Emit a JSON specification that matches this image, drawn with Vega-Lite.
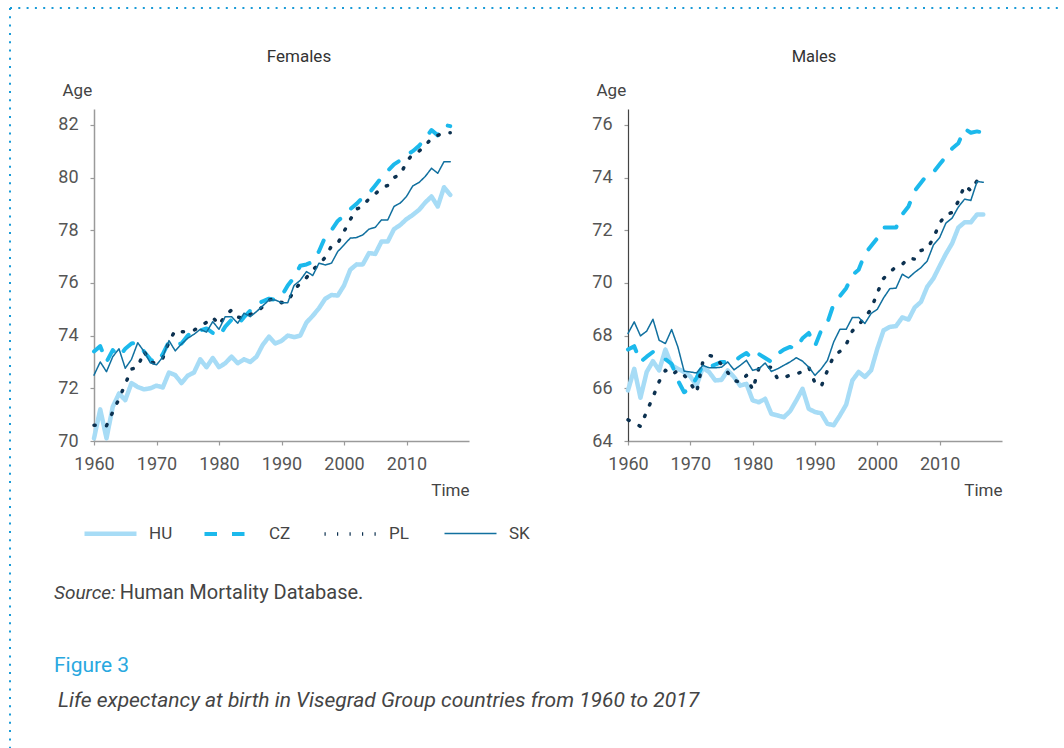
{
"$schema": "https://vega.github.io/schema/vega-lite/v6.json",
"padding": {"left": 8, "top": 7, "right": 0, "bottom": 0},
"background": "white",
"config": {
 "font": "Roboto",
 "view": {"stroke": null},
 "axis": {"grid": false, "domainColor": "#9a9a9a", "domainWidth": 1.5, "tickColor": "#9a9a9a", "tickSize": 4, "tickWidth": 1.2, "labelFont": "Roboto", "labelFontSize": 18, "labelColor": "#555", "titleFont": "Roboto", "titleFontSize": 17, "titleFontWeight": "normal", "titleColor": "#444"}
},
"data": {"values": [
{"sex":"Females","country":"HU","year":1960,"age":70.1},{"sex":"Females","country":"HU","year":1961,"age":71.2},{"sex":"Females","country":"HU","year":1962,"age":70.1},{"sex":"Females","country":"HU","year":1963,"age":71.3},{"sex":"Females","country":"HU","year":1964,"age":71.8},{"sex":"Females","country":"HU","year":1965,"age":71.55},{"sex":"Females","country":"HU","year":1966,"age":72.2},{"sex":"Females","country":"HU","year":1967,"age":72.05},{"sex":"Females","country":"HU","year":1968,"age":71.96},{"sex":"Females","country":"HU","year":1969,"age":72.0},
{"sex":"Females","country":"HU","year":1970,"age":72.1},{"sex":"Females","country":"HU","year":1971,"age":72.03},{"sex":"Females","country":"HU","year":1972,"age":72.6},{"sex":"Females","country":"HU","year":1973,"age":72.5},{"sex":"Females","country":"HU","year":1974,"age":72.2},{"sex":"Females","country":"HU","year":1975,"age":72.48},{"sex":"Females","country":"HU","year":1976,"age":72.6},{"sex":"Females","country":"HU","year":1977,"age":73.1},{"sex":"Females","country":"HU","year":1978,"age":72.8},{"sex":"Females","country":"HU","year":1979,"age":73.15},
{"sex":"Females","country":"HU","year":1980,"age":72.8},{"sex":"Females","country":"HU","year":1981,"age":72.95},{"sex":"Females","country":"HU","year":1982,"age":73.2},{"sex":"Females","country":"HU","year":1983,"age":72.95},{"sex":"Females","country":"HU","year":1984,"age":73.1},{"sex":"Females","country":"HU","year":1985,"age":73.0},{"sex":"Females","country":"HU","year":1986,"age":73.2},{"sex":"Females","country":"HU","year":1987,"age":73.65},{"sex":"Females","country":"HU","year":1988,"age":73.96},{"sex":"Females","country":"HU","year":1989,"age":73.7},
{"sex":"Females","country":"HU","year":1990,"age":73.8},{"sex":"Females","country":"HU","year":1991,"age":74.0},{"sex":"Females","country":"HU","year":1992,"age":73.94},{"sex":"Females","country":"HU","year":1993,"age":74.0},{"sex":"Females","country":"HU","year":1994,"age":74.5},{"sex":"Females","country":"HU","year":1995,"age":74.75},{"sex":"Females","country":"HU","year":1996,"age":75.04},{"sex":"Females","country":"HU","year":1997,"age":75.4},{"sex":"Females","country":"HU","year":1998,"age":75.54},{"sex":"Females","country":"HU","year":1999,"age":75.52},
{"sex":"Females","country":"HU","year":2000,"age":75.9},{"sex":"Females","country":"HU","year":2001,"age":76.5},{"sex":"Females","country":"HU","year":2002,"age":76.7},{"sex":"Females","country":"HU","year":2003,"age":76.7},{"sex":"Females","country":"HU","year":2004,"age":77.13},{"sex":"Females","country":"HU","year":2005,"age":77.1},{"sex":"Females","country":"HU","year":2006,"age":77.57},{"sex":"Females","country":"HU","year":2007,"age":77.57},{"sex":"Females","country":"HU","year":2008,"age":78.04},{"sex":"Females","country":"HU","year":2009,"age":78.2},
{"sex":"Females","country":"HU","year":2010,"age":78.42},{"sex":"Females","country":"HU","year":2011,"age":78.58},{"sex":"Females","country":"HU","year":2012,"age":78.77},{"sex":"Females","country":"HU","year":2013,"age":79.05},{"sex":"Females","country":"HU","year":2014,"age":79.28},{"sex":"Females","country":"HU","year":2015,"age":78.9},{"sex":"Females","country":"HU","year":2016,"age":79.63},{"sex":"Females","country":"HU","year":2017,"age":79.34},
{"sex":"Females","country":"CZ","year":1960,"age":73.4},{"sex":"Females","country":"CZ","year":1961,"age":73.6},{"sex":"Females","country":"CZ","year":1962,"age":73.0},{"sex":"Females","country":"CZ","year":1963,"age":73.45},{"sex":"Females","country":"CZ","year":1964,"age":73.2},{"sex":"Females","country":"CZ","year":1965,"age":73.5},{"sex":"Females","country":"CZ","year":1966,"age":73.7},{"sex":"Females","country":"CZ","year":1967,"age":73.73},{"sex":"Females","country":"CZ","year":1968,"age":73.4},{"sex":"Females","country":"CZ","year":1969,"age":73.1},
{"sex":"Females","country":"CZ","year":1970,"age":72.95},{"sex":"Females","country":"CZ","year":1971,"age":73.3},{"sex":"Females","country":"CZ","year":1972,"age":73.77},{"sex":"Females","country":"CZ","year":1973,"age":73.65},{"sex":"Females","country":"CZ","year":1974,"age":73.7},{"sex":"Females","country":"CZ","year":1975,"age":74.0},{"sex":"Females","country":"CZ","year":1976,"age":74.2},{"sex":"Females","country":"CZ","year":1977,"age":74.2},{"sex":"Females","country":"CZ","year":1978,"age":74.27},{"sex":"Females","country":"CZ","year":1979,"age":74.1},
{"sex":"Females","country":"CZ","year":1980,"age":73.96},{"sex":"Females","country":"CZ","year":1981,"age":74.34},{"sex":"Females","country":"CZ","year":1982,"age":74.6},{"sex":"Females","country":"CZ","year":1983,"age":74.4},{"sex":"Females","country":"CZ","year":1984,"age":74.7},{"sex":"Females","country":"CZ","year":1985,"age":74.95},{"sex":"Females","country":"CZ","year":1986,"age":75.2},{"sex":"Females","country":"CZ","year":1987,"age":75.3},{"sex":"Females","country":"CZ","year":1988,"age":75.4},{"sex":"Females","country":"CZ","year":1989,"age":75.35},
{"sex":"Females","country":"CZ","year":1990,"age":75.5},{"sex":"Females","country":"CZ","year":1991,"age":75.9},{"sex":"Females","country":"CZ","year":1992,"age":76.2},{"sex":"Females","country":"CZ","year":1993,"age":76.65},{"sex":"Females","country":"CZ","year":1994,"age":76.7},{"sex":"Females","country":"CZ","year":1995,"age":76.8},{"sex":"Females","country":"CZ","year":1996,"age":77.2},{"sex":"Females","country":"CZ","year":1997,"age":77.75},{"sex":"Females","country":"CZ","year":1998,"age":78.0},{"sex":"Females","country":"CZ","year":1999,"age":78.35},
{"sex":"Females","country":"CZ","year":2000,"age":78.55},{"sex":"Females","country":"CZ","year":2001,"age":78.8},{"sex":"Females","country":"CZ","year":2002,"age":79.0},{"sex":"Females","country":"CZ","year":2003,"age":79.25},{"sex":"Females","country":"CZ","year":2004,"age":79.4},{"sex":"Females","country":"CZ","year":2005,"age":79.7},{"sex":"Females","country":"CZ","year":2006,"age":80.0},{"sex":"Females","country":"CZ","year":2007,"age":80.25},{"sex":"Females","country":"CZ","year":2008,"age":80.5},{"sex":"Females","country":"CZ","year":2009,"age":80.65},
{"sex":"Females","country":"CZ","year":2010,"age":80.85},{"sex":"Females","country":"CZ","year":2011,"age":81.0},{"sex":"Females","country":"CZ","year":2012,"age":81.2},{"sex":"Females","country":"CZ","year":2013,"age":81.5},{"sex":"Females","country":"CZ","year":2014,"age":81.8},{"sex":"Females","country":"CZ","year":2015,"age":81.6},{"sex":"Females","country":"CZ","year":2016,"age":82.0},{"sex":"Females","country":"CZ","year":2017,"age":81.95},
{"sex":"Females","country":"PL","year":1960,"age":70.6},{"sex":"Females","country":"PL","year":1961,"age":70.6},{"sex":"Females","country":"PL","year":1962,"age":70.58},{"sex":"Females","country":"PL","year":1963,"age":71.1},{"sex":"Females","country":"PL","year":1964,"age":71.6},{"sex":"Females","country":"PL","year":1965,"age":72.16},{"sex":"Females","country":"PL","year":1966,"age":72.73},{"sex":"Females","country":"PL","year":1967,"age":72.8},{"sex":"Females","country":"PL","year":1968,"age":73.4},{"sex":"Females","country":"PL","year":1969,"age":73.0},
{"sex":"Females","country":"PL","year":1970,"age":72.95},{"sex":"Females","country":"PL","year":1971,"age":73.14},{"sex":"Females","country":"PL","year":1972,"age":73.77},{"sex":"Females","country":"PL","year":1973,"age":74.2},{"sex":"Females","country":"PL","year":1974,"age":74.15},{"sex":"Females","country":"PL","year":1975,"age":74.15},{"sex":"Females","country":"PL","year":1976,"age":74.2},{"sex":"Females","country":"PL","year":1977,"age":74.37},{"sex":"Females","country":"PL","year":1978,"age":74.5},{"sex":"Females","country":"PL","year":1979,"age":74.7},
{"sex":"Females","country":"PL","year":1980,"age":74.4},{"sex":"Females","country":"PL","year":1981,"age":74.76},{"sex":"Females","country":"PL","year":1982,"age":74.97},{"sex":"Females","country":"PL","year":1983,"age":74.7},{"sex":"Females","country":"PL","year":1984,"age":74.66},{"sex":"Females","country":"PL","year":1985,"age":74.8},{"sex":"Females","country":"PL","year":1986,"age":74.89},{"sex":"Females","country":"PL","year":1987,"age":75.1},{"sex":"Females","country":"PL","year":1988,"age":75.35},{"sex":"Females","country":"PL","year":1989,"age":75.4},
{"sex":"Females","country":"PL","year":1990,"age":75.25},{"sex":"Females","country":"PL","year":1991,"age":75.3},{"sex":"Females","country":"PL","year":1992,"age":75.7},{"sex":"Females","country":"PL","year":1993,"age":76.0},{"sex":"Females","country":"PL","year":1994,"age":76.2},{"sex":"Females","country":"PL","year":1995,"age":76.5},{"sex":"Females","country":"PL","year":1996,"age":76.7},{"sex":"Females","country":"PL","year":1997,"age":76.97},{"sex":"Females","country":"PL","year":1998,"age":77.4},{"sex":"Females","country":"PL","year":1999,"age":77.5},
{"sex":"Females","country":"PL","year":2000,"age":77.95},{"sex":"Females","country":"PL","year":2001,"age":78.4},{"sex":"Females","country":"PL","year":2002,"age":78.8},{"sex":"Females","country":"PL","year":2003,"age":78.9},{"sex":"Females","country":"PL","year":2004,"age":79.2},{"sex":"Females","country":"PL","year":2005,"age":79.38},{"sex":"Females","country":"PL","year":2006,"age":79.6},{"sex":"Females","country":"PL","year":2007,"age":79.7},{"sex":"Females","country":"PL","year":2008,"age":80.0},{"sex":"Females","country":"PL","year":2009,"age":80.1},
{"sex":"Females","country":"PL","year":2010,"age":80.58},{"sex":"Females","country":"PL","year":2011,"age":80.9},{"sex":"Females","country":"PL","year":2012,"age":81.0},{"sex":"Females","country":"PL","year":2013,"age":81.2},{"sex":"Females","country":"PL","year":2014,"age":81.5},{"sex":"Females","country":"PL","year":2015,"age":81.6},{"sex":"Females","country":"PL","year":2016,"age":81.7},{"sex":"Females","country":"PL","year":2017,"age":81.7},
{"sex":"Females","country":"SK","year":1960,"age":72.5},{"sex":"Females","country":"SK","year":1961,"age":73.0},{"sex":"Females","country":"SK","year":1962,"age":72.63},{"sex":"Females","country":"SK","year":1963,"age":73.2},{"sex":"Females","country":"SK","year":1964,"age":73.5},{"sex":"Females","country":"SK","year":1965,"age":72.76},{"sex":"Females","country":"SK","year":1966,"age":73.1},{"sex":"Females","country":"SK","year":1967,"age":73.73},{"sex":"Females","country":"SK","year":1968,"age":73.4},{"sex":"Females","country":"SK","year":1969,"age":72.97},
{"sex":"Females","country":"SK","year":1970,"age":72.89},{"sex":"Females","country":"SK","year":1971,"age":73.18},{"sex":"Females","country":"SK","year":1972,"age":73.81},{"sex":"Females","country":"SK","year":1973,"age":73.42},{"sex":"Females","country":"SK","year":1974,"age":73.68},{"sex":"Females","country":"SK","year":1975,"age":73.9},{"sex":"Females","country":"SK","year":1976,"age":74.05},{"sex":"Females","country":"SK","year":1977,"age":74.24},{"sex":"Females","country":"SK","year":1978,"age":74.13},{"sex":"Females","country":"SK","year":1979,"age":74.53},
{"sex":"Females","country":"SK","year":1980,"age":74.24},{"sex":"Females","country":"SK","year":1981,"age":74.72},{"sex":"Females","country":"SK","year":1982,"age":74.72},{"sex":"Females","country":"SK","year":1983,"age":74.47},{"sex":"Females","country":"SK","year":1984,"age":74.85},{"sex":"Females","country":"SK","year":1985,"age":74.72},{"sex":"Females","country":"SK","year":1986,"age":74.91},{"sex":"Females","country":"SK","year":1987,"age":75.13},{"sex":"Females","country":"SK","year":1988,"age":75.35},{"sex":"Females","country":"SK","year":1989,"age":75.35},
{"sex":"Females","country":"SK","year":1990,"age":75.25},{"sex":"Females","country":"SK","year":1991,"age":75.25},{"sex":"Females","country":"SK","year":1992,"age":75.9},{"sex":"Females","country":"SK","year":1993,"age":76.1},{"sex":"Females","country":"SK","year":1994,"age":76.43},{"sex":"Females","country":"SK","year":1995,"age":76.28},{"sex":"Females","country":"SK","year":1996,"age":76.75},{"sex":"Females","country":"SK","year":1997,"age":76.68},{"sex":"Females","country":"SK","year":1998,"age":76.75},{"sex":"Females","country":"SK","year":1999,"age":77.19},
{"sex":"Females","country":"SK","year":2000,"age":77.44},{"sex":"Females","country":"SK","year":2001,"age":77.7},{"sex":"Females","country":"SK","year":2002,"age":77.72},{"sex":"Females","country":"SK","year":2003,"age":77.82},{"sex":"Females","country":"SK","year":2004,"age":78.04},{"sex":"Females","country":"SK","year":2005,"age":78.11},{"sex":"Females","country":"SK","year":2006,"age":78.39},{"sex":"Females","country":"SK","year":2007,"age":78.39},{"sex":"Females","country":"SK","year":2008,"age":78.9},{"sex":"Females","country":"SK","year":2009,"age":79.03},
{"sex":"Females","country":"SK","year":2010,"age":79.28},{"sex":"Females","country":"SK","year":2011,"age":79.68},{"sex":"Females","country":"SK","year":2012,"age":79.81},{"sex":"Females","country":"SK","year":2013,"age":80.04},{"sex":"Females","country":"SK","year":2014,"age":80.35},{"sex":"Females","country":"SK","year":2015,"age":80.16},{"sex":"Females","country":"SK","year":2016,"age":80.6},{"sex":"Females","country":"SK","year":2017,"age":80.6},
{"sex":"Males","country":"HU","year":1960,"age":65.92},{"sex":"Males","country":"HU","year":1961,"age":66.74},{"sex":"Males","country":"HU","year":1962,"age":65.64},{"sex":"Males","country":"HU","year":1963,"age":66.62},{"sex":"Males","country":"HU","year":1964,"age":67.03},{"sex":"Males","country":"HU","year":1965,"age":66.68},{"sex":"Males","country":"HU","year":1966,"age":67.47},{"sex":"Males","country":"HU","year":1967,"age":66.87},{"sex":"Males","country":"HU","year":1968,"age":66.74},{"sex":"Males","country":"HU","year":1969,"age":66.62},
{"sex":"Males","country":"HU","year":1970,"age":66.45},{"sex":"Males","country":"HU","year":1971,"age":66.1},{"sex":"Males","country":"HU","year":1972,"age":66.78},{"sex":"Males","country":"HU","year":1973,"age":66.62},{"sex":"Males","country":"HU","year":1974,"age":66.3},{"sex":"Males","country":"HU","year":1975,"age":66.32},{"sex":"Males","country":"HU","year":1976,"age":66.68},{"sex":"Males","country":"HU","year":1977,"age":66.43},{"sex":"Males","country":"HU","year":1978,"age":66.1},{"sex":"Males","country":"HU","year":1979,"age":66.17},
{"sex":"Males","country":"HU","year":1980,"age":65.54},{"sex":"Males","country":"HU","year":1981,"age":65.47},{"sex":"Males","country":"HU","year":1982,"age":65.6},{"sex":"Males","country":"HU","year":1983,"age":65.03},{"sex":"Males","country":"HU","year":1984,"age":64.97},{"sex":"Males","country":"HU","year":1985,"age":64.9},{"sex":"Males","country":"HU","year":1986,"age":65.13},{"sex":"Males","country":"HU","year":1987,"age":65.54},{"sex":"Males","country":"HU","year":1988,"age":65.98},{"sex":"Males","country":"HU","year":1989,"age":65.22},
{"sex":"Males","country":"HU","year":1990,"age":65.1},{"sex":"Males","country":"HU","year":1991,"age":65.05},{"sex":"Males","country":"HU","year":1992,"age":64.65},{"sex":"Males","country":"HU","year":1993,"age":64.6},{"sex":"Males","country":"HU","year":1994,"age":64.97},{"sex":"Males","country":"HU","year":1995,"age":65.38},{"sex":"Males","country":"HU","year":1996,"age":66.3},{"sex":"Males","country":"HU","year":1997,"age":66.62},{"sex":"Males","country":"HU","year":1998,"age":66.43},{"sex":"Males","country":"HU","year":1999,"age":66.68},
{"sex":"Males","country":"HU","year":2000,"age":67.5},{"sex":"Males","country":"HU","year":2001,"age":68.2},{"sex":"Males","country":"HU","year":2002,"age":68.33},{"sex":"Males","country":"HU","year":2003,"age":68.36},{"sex":"Males","country":"HU","year":2004,"age":68.69},{"sex":"Males","country":"HU","year":2005,"age":68.61},{"sex":"Males","country":"HU","year":2006,"age":69.07},{"sex":"Males","country":"HU","year":2007,"age":69.28},{"sex":"Males","country":"HU","year":2008,"age":69.85},{"sex":"Males","country":"HU","year":2009,"age":70.17},
{"sex":"Males","country":"HU","year":2010,"age":70.64},{"sex":"Males","country":"HU","year":2011,"age":71.1},{"sex":"Males","country":"HU","year":2012,"age":71.5},{"sex":"Males","country":"HU","year":2013,"age":72.1},{"sex":"Males","country":"HU","year":2014,"age":72.3},{"sex":"Males","country":"HU","year":2015,"age":72.3},{"sex":"Males","country":"HU","year":2016,"age":72.6},{"sex":"Males","country":"HU","year":2017,"age":72.6},
{"sex":"Males","country":"CZ","year":1960,"age":67.47},{"sex":"Males","country":"CZ","year":1961,"age":67.6},{"sex":"Males","country":"CZ","year":1962,"age":67.0},{"sex":"Males","country":"CZ","year":1963,"age":67.2},{"sex":"Males","country":"CZ","year":1964,"age":67.38},{"sex":"Males","country":"CZ","year":1965,"age":67.2},{"sex":"Males","country":"CZ","year":1966,"age":67.1},{"sex":"Males","country":"CZ","year":1967,"age":66.93},{"sex":"Males","country":"CZ","year":1968,"age":66.3},{"sex":"Males","country":"CZ","year":1969,"age":65.85},
{"sex":"Males","country":"CZ","year":1970,"age":66.0},{"sex":"Males","country":"CZ","year":1971,"age":66.4},{"sex":"Males","country":"CZ","year":1972,"age":66.87},{"sex":"Males","country":"CZ","year":1973,"age":66.8},{"sex":"Males","country":"CZ","year":1974,"age":66.9},{"sex":"Males","country":"CZ","year":1975,"age":67.0},{"sex":"Males","country":"CZ","year":1976,"age":67.0},{"sex":"Males","country":"CZ","year":1977,"age":67.0},{"sex":"Males","country":"CZ","year":1978,"age":67.2},{"sex":"Males","country":"CZ","year":1979,"age":67.34},
{"sex":"Males","country":"CZ","year":1980,"age":67.1},{"sex":"Males","country":"CZ","year":1981,"age":67.3},{"sex":"Males","country":"CZ","year":1982,"age":67.15},{"sex":"Males","country":"CZ","year":1983,"age":67.0},{"sex":"Males","country":"CZ","year":1984,"age":67.3},{"sex":"Males","country":"CZ","year":1985,"age":67.47},{"sex":"Males","country":"CZ","year":1986,"age":67.57},{"sex":"Males","country":"CZ","year":1987,"age":67.5},{"sex":"Males","country":"CZ","year":1988,"age":67.9},{"sex":"Males","country":"CZ","year":1989,"age":68.1},
{"sex":"Males","country":"CZ","year":1990,"age":67.6},{"sex":"Males","country":"CZ","year":1991,"age":68.2},{"sex":"Males","country":"CZ","year":1992,"age":68.5},{"sex":"Males","country":"CZ","year":1993,"age":69.2},{"sex":"Males","country":"CZ","year":1994,"age":69.5},{"sex":"Males","country":"CZ","year":1995,"age":69.8},{"sex":"Males","country":"CZ","year":1996,"age":70.3},{"sex":"Males","country":"CZ","year":1997,"age":70.5},{"sex":"Males","country":"CZ","year":1998,"age":71.1},{"sex":"Males","country":"CZ","year":1999,"age":71.4},
{"sex":"Males","country":"CZ","year":2000,"age":71.7},{"sex":"Males","country":"CZ","year":2001,"age":72.1},{"sex":"Males","country":"CZ","year":2002,"age":72.1},{"sex":"Males","country":"CZ","year":2003,"age":72.1},{"sex":"Males","country":"CZ","year":2004,"age":72.6},{"sex":"Males","country":"CZ","year":2005,"age":72.9},{"sex":"Males","country":"CZ","year":2006,"age":73.5},{"sex":"Males","country":"CZ","year":2007,"age":73.8},{"sex":"Males","country":"CZ","year":2008,"age":74.1},{"sex":"Males","country":"CZ","year":2009,"age":74.2},
{"sex":"Males","country":"CZ","year":2010,"age":74.5},{"sex":"Males","country":"CZ","year":2011,"age":74.8},{"sex":"Males","country":"CZ","year":2012,"age":75.1},{"sex":"Males","country":"CZ","year":2013,"age":75.3},{"sex":"Males","country":"CZ","year":2014,"age":75.85},{"sex":"Males","country":"CZ","year":2015,"age":75.7},{"sex":"Males","country":"CZ","year":2016,"age":75.75},{"sex":"Males","country":"CZ","year":2017,"age":75.7},
{"sex":"Males","country":"PL","year":1960,"age":64.8},{"sex":"Males","country":"PL","year":1961,"age":64.7},{"sex":"Males","country":"PL","year":1962,"age":64.55},{"sex":"Males","country":"PL","year":1963,"age":65.12},{"sex":"Males","country":"PL","year":1964,"age":65.66},{"sex":"Males","country":"PL","year":1965,"age":66.26},{"sex":"Males","country":"PL","year":1966,"age":66.68},{"sex":"Males","country":"PL","year":1967,"age":66.5},{"sex":"Males","country":"PL","year":1968,"age":66.68},{"sex":"Males","country":"PL","year":1969,"age":66.5},
{"sex":"Males","country":"PL","year":1970,"age":66.2},{"sex":"Males","country":"PL","year":1971,"age":65.83},{"sex":"Males","country":"PL","year":1972,"age":67.0},{"sex":"Males","country":"PL","year":1973,"age":67.25},{"sex":"Males","country":"PL","year":1974,"age":67.19},{"sex":"Males","country":"PL","year":1975,"age":66.9},{"sex":"Males","country":"PL","year":1976,"age":66.6},{"sex":"Males","country":"PL","year":1977,"age":66.3},{"sex":"Males","country":"PL","year":1978,"age":66.23},{"sex":"Males","country":"PL","year":1979,"age":66.49},
{"sex":"Males","country":"PL","year":1980,"age":65.94},{"sex":"Males","country":"PL","year":1981,"age":66.77},{"sex":"Males","country":"PL","year":1982,"age":66.8},{"sex":"Males","country":"PL","year":1983,"age":66.8},{"sex":"Males","country":"PL","year":1984,"age":66.36},{"sex":"Males","country":"PL","year":1985,"age":66.4},{"sex":"Males","country":"PL","year":1986,"age":66.5},{"sex":"Males","country":"PL","year":1987,"age":66.53},{"sex":"Males","country":"PL","year":1988,"age":66.65},{"sex":"Males","country":"PL","year":1989,"age":66.8},
{"sex":"Males","country":"PL","year":1990,"age":66.2},{"sex":"Males","country":"PL","year":1991,"age":66.07},{"sex":"Males","country":"PL","year":1992,"age":66.68},{"sex":"Males","country":"PL","year":1993,"age":67.23},{"sex":"Males","country":"PL","year":1994,"age":67.4},{"sex":"Males","country":"PL","year":1995,"age":67.66},{"sex":"Males","country":"PL","year":1996,"age":68.18},{"sex":"Males","country":"PL","year":1997,"age":68.4},{"sex":"Males","country":"PL","year":1998,"age":68.69},{"sex":"Males","country":"PL","year":1999,"age":69.0},
{"sex":"Males","country":"PL","year":2000,"age":69.63},{"sex":"Males","country":"PL","year":2001,"age":70.17},{"sex":"Males","country":"PL","year":2002,"age":70.4},{"sex":"Males","country":"PL","year":2003,"age":70.62},{"sex":"Males","country":"PL","year":2004,"age":70.7},{"sex":"Males","country":"PL","year":2005,"age":70.95},{"sex":"Males","country":"PL","year":2006,"age":70.9},{"sex":"Males","country":"PL","year":2007,"age":71.23},{"sex":"Males","country":"PL","year":2008,"age":71.3},{"sex":"Males","country":"PL","year":2009,"age":71.7},
{"sex":"Males","country":"PL","year":2010,"age":72.27},{"sex":"Males","country":"PL","year":2011,"age":72.6},{"sex":"Males","country":"PL","year":2012,"age":72.67},{"sex":"Males","country":"PL","year":2013,"age":73.1},{"sex":"Males","country":"PL","year":2014,"age":73.7},{"sex":"Males","country":"PL","year":2015,"age":73.5},{"sex":"Males","country":"PL","year":2016,"age":73.88},{"sex":"Males","country":"PL","year":2017,"age":73.9},
{"sex":"Males","country":"SK","year":1960,"age":68.08},{"sex":"Males","country":"SK","year":1961,"age":68.52},{"sex":"Males","country":"SK","year":1962,"age":67.99},{"sex":"Males","country":"SK","year":1963,"age":68.17},{"sex":"Males","country":"SK","year":1964,"age":68.62},{"sex":"Males","country":"SK","year":1965,"age":67.82},{"sex":"Males","country":"SK","year":1966,"age":67.7},{"sex":"Males","country":"SK","year":1967,"age":68.23},{"sex":"Males","country":"SK","year":1968,"age":67.57},{"sex":"Males","country":"SK","year":1969,"age":66.65},
{"sex":"Males","country":"SK","year":1970,"age":66.62},{"sex":"Males","country":"SK","year":1971,"age":66.58},{"sex":"Males","country":"SK","year":1972,"age":66.87},{"sex":"Males","country":"SK","year":1973,"age":66.78},{"sex":"Males","country":"SK","year":1974,"age":66.78},{"sex":"Males","country":"SK","year":1975,"age":66.8},{"sex":"Males","country":"SK","year":1976,"age":67.0},{"sex":"Males","country":"SK","year":1977,"age":66.7},{"sex":"Males","country":"SK","year":1978,"age":66.87},{"sex":"Males","country":"SK","year":1979,"age":67.06},
{"sex":"Males","country":"SK","year":1980,"age":66.68},{"sex":"Males","country":"SK","year":1981,"age":66.74},{"sex":"Males","country":"SK","year":1982,"age":66.96},{"sex":"Males","country":"SK","year":1983,"age":66.64},{"sex":"Males","country":"SK","year":1984,"age":66.74},{"sex":"Males","country":"SK","year":1985,"age":66.87},{"sex":"Males","country":"SK","year":1986,"age":67.0},{"sex":"Males","country":"SK","year":1987,"age":67.16},{"sex":"Males","country":"SK","year":1988,"age":67.03},{"sex":"Males","country":"SK","year":1989,"age":66.8},
{"sex":"Males","country":"SK","year":1990,"age":66.49},{"sex":"Males","country":"SK","year":1991,"age":66.74},{"sex":"Males","country":"SK","year":1992,"age":67.06},{"sex":"Males","country":"SK","year":1993,"age":67.76},{"sex":"Males","country":"SK","year":1994,"age":68.24},{"sex":"Males","country":"SK","year":1995,"age":68.24},{"sex":"Males","country":"SK","year":1996,"age":68.69},{"sex":"Males","country":"SK","year":1997,"age":68.69},{"sex":"Males","country":"SK","year":1998,"age":68.46},{"sex":"Males","country":"SK","year":1999,"age":68.84},
{"sex":"Males","country":"SK","year":2000,"age":69.0},{"sex":"Males","country":"SK","year":2001,"age":69.43},{"sex":"Males","country":"SK","year":2002,"age":69.78},{"sex":"Males","country":"SK","year":2003,"age":69.8},{"sex":"Males","country":"SK","year":2004,"age":70.33},{"sex":"Males","country":"SK","year":2005,"age":70.19},{"sex":"Males","country":"SK","year":2006,"age":70.4},{"sex":"Males","country":"SK","year":2007,"age":70.58},{"sex":"Males","country":"SK","year":2008,"age":70.83},{"sex":"Males","country":"SK","year":2009,"age":71.44},
{"sex":"Males","country":"SK","year":2010,"age":71.72},{"sex":"Males","country":"SK","year":2011,"age":72.27},{"sex":"Males","country":"SK","year":2012,"age":72.46},{"sex":"Males","country":"SK","year":2013,"age":72.88},{"sex":"Males","country":"SK","year":2014,"age":73.18},{"sex":"Males","country":"SK","year":2015,"age":73.13},{"sex":"Males","country":"SK","year":2016,"age":73.85},{"sex":"Males","country":"SK","year":2017,"age":73.82}
]},
"spacing": 159,
"bounds": "flush",
"hconcat": [
 {"width": 375, "height": 332,
  "layer": [
   {"transform": [{"filter": "datum.sex === 'Females'"}],
    "mark": {"type": "line", "strokeCap": "round", "strokeJoin": "round"},
    "encoding": {
      "x": {"field": "year", "type": "quantitative", "scale": {"domain": [1960, 2020], "nice": false, "zero": false}, "axis": {"values": [1960, 1970, 1980, 1990, 2000, 2010], "format": "d", "labelPadding": 10, "title": "Time", "titleX": 375, "titleY": 49, "titleAlign": "right", "titleBaseline": "middle", "labelFlush": false}},
      "y": {"field": "age", "type": "quantitative", "scale": {"domain": [70, 82.6], "nice": false, "zero": false}, "axis": {"values": [70, 72, 74, 76, 78, 80, 82], "labelPadding": 12, "title": "Age", "titleAngle": 0, "titleX": -32, "titleY": -19, "titleAlign": "left", "titleBaseline": "middle"}},
      "color": {"field": "country", "type": "nominal", "scale": {"domain": ["HU", "CZ", "PL", "SK"], "range": ["#a7dcf6", "#1cb9ec", "#0c3150", "#11709f"]},
        "legend": {"title": null, "orient": "none", "legendX": -12, "legendY": 396, "direction": "horizontal", "columns": 4, "gridAlign": "all", "columnPadding": 23, "symbolType": "stroke", "symbolSize": 2704, "labelFontSize": 17, "labelFont": "Roboto", "labelColor": "#444", "labelOffset": 10}},
      "strokeDash": {"field": "country", "type": "nominal", "scale": {"domain": ["HU", "CZ", "PL", "SK"], "range": [[1, 0], [12.5, 15], [1.2, 11.3], [1, 0]]}},
      "strokeWidth": {"field": "country", "type": "nominal", "scale": {"type": "ordinal", "domain": ["HU", "CZ", "PL", "SK"], "range": [4.5, 4, 3.5, 1.5]}}
    }},
   {"data": {"values": [{"part": "top"}]},
    "mark": {"type": "rule", "color": "#1a9bd7", "strokeWidth": 2, "strokeDash": [2, 6.3]},
    "encoding": {"x": {"datum": 1946.56, "type": "quantitative", "title": "Time"}, "x2": {"datum": 2125}, "y": {"datum": 86.433, "type": "quantitative", "title": "Age"}}},
   {"data": {"values": [{"part": "left"}]},
    "mark": {"type": "rule", "color": "#1a9bd7", "strokeWidth": 2, "strokeDash": [2, 6.3]},
    "encoding": {"x": {"datum": 1946.56, "type": "quantitative", "title": "Time"}, "y": {"datum": 86.433, "type": "quantitative", "title": "Age"}, "y2": {"datum": 55}}},
   {"data": {"values": [{"label": "Females"}]},
    "mark": {"type": "text", "align": "center", "baseline": "middle", "fontSize": 17, "font": "Roboto", "color": "#333"},
    "encoding": {"x": {"datum": 1992.8, "type": "quantitative", "title": "Time"}, "y": {"datum": 84.574, "type": "quantitative", "title": "Age"}, "text": {"field": "label"}}},
   {"data": {"values": [{"label": "Source:"}]},
    "mark": {"type": "text", "align": "left", "baseline": "middle", "fontStyle": "italic", "fontSize": 19, "font": "Roboto", "color": "#444"},
    "encoding": {"x": {"datum": 1953.6, "type": "quantitative", "title": "Time"}, "y": {"datum": 64.25, "type": "quantitative", "title": "Age"}, "text": {"field": "label"}}},
   {"data": {"values": [{"label": "Human Mortality Database."}]},
    "mark": {"type": "text", "align": "left", "baseline": "middle", "fontSize": 20, "font": "Roboto", "color": "#444"},
    "encoding": {"x": {"datum": 1964.1, "type": "quantitative", "title": "Time"}, "y": {"datum": 64.25, "type": "quantitative", "title": "Age"}, "text": {"field": "label"}}},
   {"data": {"values": [{"label": "Figure 3"}]},
    "mark": {"type": "text", "align": "left", "baseline": "middle", "fontSize": 21, "font": "Roboto", "color": "#29a8df"},
    "encoding": {"x": {"datum": 1953.6, "type": "quantitative", "title": "Time"}, "y": {"datum": 61.46, "type": "quantitative", "title": "Age"}, "text": {"field": "label"}}},
   {"data": {"values": [{"label": "Life expectancy at birth in Visegrad Group countries from 1960 to 2017"}]},
    "mark": {"type": "text", "align": "left", "baseline": "middle", "fontStyle": "italic", "fontSize": 21, "font": "Roboto", "color": "#444"},
    "encoding": {"x": {"datum": 1954.24, "type": "quantitative", "title": "Time"}, "y": {"datum": 60.13, "type": "quantitative", "title": "Age"}, "text": {"field": "label"}}}
  ]},
 {"width": 374, "height": 332,
  "layer": [
   {"transform": [{"filter": "datum.sex === 'Males'"}],
    "mark": {"type": "line", "strokeCap": "round", "strokeJoin": "round"},
    "encoding": {
      "x": {"field": "year", "type": "quantitative", "scale": {"domain": [1960, 2020], "nice": false, "zero": false}, "axis": {"values": [1960, 1970, 1980, 1990, 2000, 2010], "format": "d", "labelPadding": 10, "title": "Time", "titleX": 374, "titleY": 49, "titleAlign": "right", "titleBaseline": "middle", "labelFlush": false}},
      "y": {"field": "age", "type": "quantitative", "scale": {"domain": [64, 76.6], "nice": false, "zero": false}, "axis": {"values": [64, 66, 68, 70, 72, 74, 76], "labelPadding": 12, "title": "Age", "titleAngle": 0, "titleX": -32, "titleY": -19, "titleAlign": "left", "titleBaseline": "middle", "domainColor": "#444", "domainWidth": 1.2}},
      "color": {"field": "country", "type": "nominal", "scale": {"domain": ["HU", "CZ", "PL", "SK"], "range": ["#a7dcf6", "#1cb9ec", "#0c3150", "#11709f"]}},
      "strokeDash": {"field": "country", "type": "nominal", "scale": {"domain": ["HU", "CZ", "PL", "SK"], "range": [[1, 0], [12.5, 15], [1.2, 11.3], [1, 0]]}},
      "strokeWidth": {"field": "country", "type": "nominal", "scale": {"type": "ordinal", "domain": ["HU", "CZ", "PL", "SK"], "range": [4.5, 4, 3.5, 1.5]}}
    }},
   {"data": {"values": [{"label": "Males"}]},
    "mark": {"type": "text", "align": "center", "baseline": "middle", "fontSize": 16.5, "font": "Roboto", "color": "#333"},
    "encoding": {"x": {"datum": 1989.84, "type": "quantitative", "title": "Time"}, "y": {"datum": 78.574, "type": "quantitative", "title": "Age"}, "text": {"field": "label"}}}
  ]}
]
}
